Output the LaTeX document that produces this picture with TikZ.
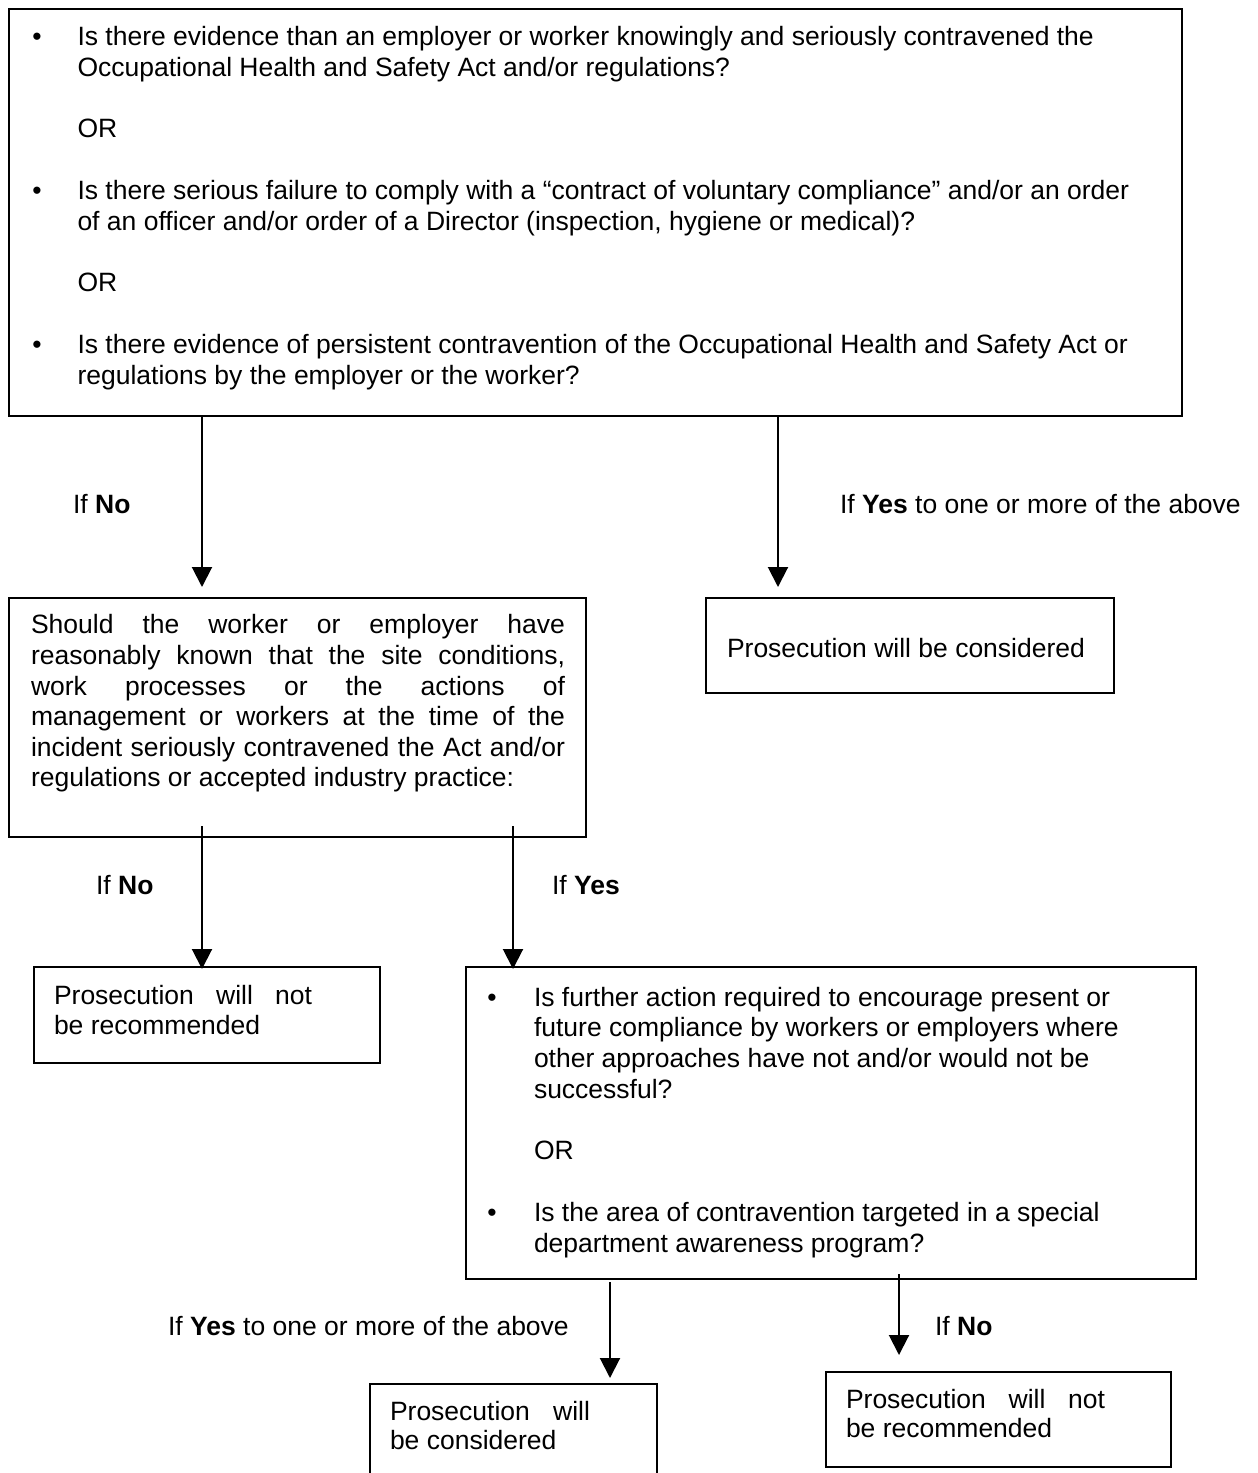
\documentclass[tikz,border=0pt]{standalone}
\usepackage{fontspec}
\setmainfont{Liberation Sans}
\usetikzlibrary{arrows.meta,calc}
\newcommand\fsz{\fontsize{26.5}{30.8}\selectfont}
\begin{document}
\begin{tikzpicture}[x=1pt,y=-1pt,
  box/.style={draw, line width=2pt, rectangle, inner sep=0pt, outer sep=0pt, anchor=north west},
  txt/.style={anchor=base west, inner sep=0pt, outer sep=0pt, font=\fsz},
  bul/.style={anchor=base, inner sep=0pt, outer sep=0pt, font=\fsz},
  arr/.style={line width=2pt, -{Triangle[length=20pt,width=20pt]}},
]
\useasboundingbox (0,0) rectangle (1258,1473);
\clip (0,0) rectangle (1258,1473);

% column coordinates for connectors
\coordinate (cA) at (202,0);
\coordinate (cB) at (778,0);
\coordinate (cC) at (513,0);
\coordinate (cD) at (610,0);
\coordinate (cE) at (899,0);

% boxes
\node[box, minimum width=1173pt, minimum height=407pt] (q1) at (9,9) {};
\node[box, minimum width=577pt, minimum height=239pt] (q2) at (9,598) {};
\node[box, minimum width=408pt, minimum height=95pt] (r1) at (706,598) {};
\node[box, minimum width=346pt, minimum height=96pt] (r2) at (34,967) {};
\node[box, minimum width=730pt, minimum height=312pt] (q3) at (466,967) {};
\node[box, minimum width=287pt, minimum height=130pt] (r3) at (370,1384) {};
\node[box, minimum width=345pt, minimum height=95pt] (r4) at (826,1372) {};

% box 1 text
\node[bul] (q1b1) at (37,45) {•};
\node[txt] (q1l1) at (77.5,45) {Is there evidence than an employer or worker knowingly and seriously contravened the};
\node[txt] (q1l2) at (77.5,76) {Occupational Health and Safety Act and/or regulations?};
\node[txt] (q1or1) at (77.5,137) {OR};
\node[bul] (q1b2) at (37,199) {•};
\node[txt] (q1l3) at (77.5,199) {Is there serious failure to comply with a “contract of voluntary compliance” and/or an order};
\node[txt] (q1l4) at (77.5,230) {of an officer and/or order of a Director (inspection, hygiene or medical)?};
\node[txt] (q1or2) at (77.5,291) {OR};
\node[bul] (q1b3) at (37,353) {•};
\node[txt] (q1l5) at (77.5,353) {Is there evidence of persistent contravention of the Occupational Health and Safety Act or};
\node[txt] (q1l6) at (77.5,384) {regulations by the employer or the worker?};

% box 2 text (justified)
\node[txt] (q2l1) at (31,633) {\makebox[534pt][s]{Should the worker or employer have}};
\node[txt] (q2l2) at (31,664) {\makebox[534pt][s]{reasonably known that the site conditions,}};
\node[txt] (q2l3) at (31,695) {\makebox[534pt][s]{work processes or the actions of}};
\node[txt] (q2l4) at (31,725) {\makebox[534pt][s]{management or workers at the time of the}};
\node[txt] (q2l5) at (31,756) {\makebox[534pt][s]{incident seriously contravened the Act and/or}};
\node[txt] (q2l6) at (31,786) {regulations or accepted industry practice:};

% box 3 text
\node[txt] (r1l1) at (727,657) {Prosecution will be considered};

% box 4 text
\node[txt] (r2l1) at (54,1004) {\makebox[258pt][s]{Prosecution will not}};
\node[txt] (r2l2) at (54,1034) {be recommended};

% box 5 text
\node[bul] (q3b1) at (492,1006) {•};
\node[txt] (q3l1) at (534,1006) {Is further action required to encourage present or};
\node[txt] (q3l2) at (534,1036) {future compliance by workers or employers where};
\node[txt] (q3l3) at (534,1067) {other approaches have not and/or would not be};
\node[txt] (q3l4) at (534,1098) {successful?};
\node[txt] (q3or) at (534,1159) {OR};
\node[bul] (q3b2) at (492,1221) {•};
\node[txt] (q3l5) at (534,1221) {Is the area of contravention targeted in a special};
\node[txt] (q3l6) at (534,1252) {department awareness program?};

% box 6 text
\node[txt] (r3l1) at (390,1420) {\makebox[200pt][s]{Prosecution will}};
\node[txt] (r3l2) at (390,1449) {be considered};

% box 7 text
\node[txt] (r4l1) at (846,1408) {\makebox[259pt][s]{Prosecution will not}};
\node[txt] (r4l2) at (846,1437) {be recommended};

% labels
\node[txt] (lab1) at (73,513) {If \textbf{No}};
\node[txt] (lab2) at (840,513) {If \textbf{Yes} to one or more of the above};
\node[txt] (lab3) at (96,894) {If \textbf{No}};
\node[txt] (lab4) at (552,894) {If \textbf{Yes}};
\node[txt] (lab5) at (168,1335) {If \textbf{Yes} to one or more of the above};
\node[txt] (lab6) at (935,1335) {If \textbf{No}};

% connectors
\draw[arr] (q1.south -| cA) -- ($(q2.north -| cA)+(0,-11)$);
\draw[arr] (q1.south -| cB) -- ($(r1.north -| cB)+(0,-11)$);
\draw[arr] ($(q2.south -| cA)+(0,-11)$) -- ($(r2.north -| cA)+(0,2)$);
\draw[arr] ($(q2.south -| cC)+(0,-11)$) -- ($(q3.north -| cC)+(0,2)$);
\draw[arr] ($(q3.south -| cD)+(0,3)$) -- ($(r3.north -| cD)+(0,-6)$);
\draw[arr] ($(q3.south -| cE)+(0,-5)$) -- ($(r4.north -| cE)+(0,-17)$);
\end{tikzpicture}
\end{document}
